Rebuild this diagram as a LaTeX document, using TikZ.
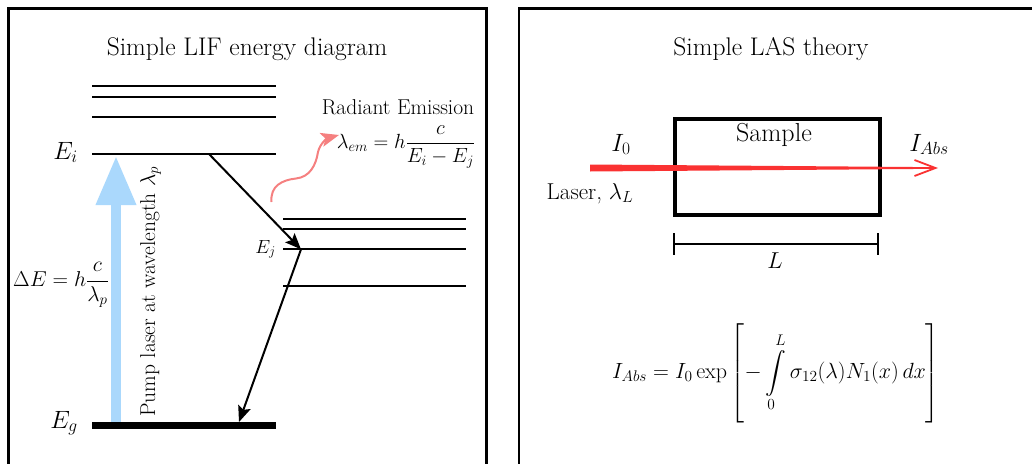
\documentclass[tikz,border=0pt]{standalone}
\usepackage{fix-cm}
\usepackage{fontspec}
\usepackage{amsmath}
\usetikzlibrary{arrows.meta}
\definecolor{pumpblue}{RGB}{170,216,252}
\definecolor{emipink}{RGB}{245,128,128}
\definecolor{beamred}{RGB}{250,50,50}
\tikzset{
  panel/.style={line width=2.7pt},
  level/.style={line width=2pt},
  ttl/.style={font=\fontsize{25.5}{30}\selectfont, inner sep=0pt, anchor=base},
  lbl/.style={font=\fontsize{21.5}{26}\selectfont, inner sep=0pt},
  biglbl/.style={font=\fontsize{25}{30}\selectfont, inner sep=0pt},
  trans/.style={line width=2pt, -{Stealth[length=16pt, width=13pt, inset=3pt]}},
}
\begin{document}
\begin{tikzpicture}[x=1pt, y=-1pt]
\useasboundingbox (0,0) rectangle (1032,463);
% panels
\draw[panel] (8.7,470) -- (8.7,8.7) -- (486.5,8.7) -- (486.5,470);
\draw[panel] (519,470) -- (519,8.7) -- (1040,8.7);
% titles
\node[ttl] (lif) at (247,55) {Simple LIF energy diagram};
\node[ttl] (las) at (771,55) {Simple LAS theory};
% ---- LIF ----
\coordinate (pumpbot) at (116,422);
\coordinate (pumptop) at (116,156);
\draw[pumpblue, line width=10pt, -{Triangle[length=49pt, width=38pt]}] (pumpbot) -- (pumptop);
% upper levels
\draw[level] (92,86.3) -- (276,86.3);
\draw[level] (92,96.7) -- (276,96.7);
\draw[level] (92,116.7) -- (276,116.7);
\draw[level] (92,154) coordinate (eil) -- (276,154);
\draw[line width=6.5pt] (92,425.5) coordinate (egl) -- (276,425.5);
% lower right levels
\draw[level] (283,219) -- (466,219);
\draw[level] (283,229.3) -- (466,229.3);
\draw[level] (283,249.3) coordinate (ejl) -- (466,249.3);
\draw[level] (283,286.3) -- (466,286.3);
% labels
\node[biglbl, anchor=base east] (ei) at (78,159) {$E_i$};
\node[biglbl, anchor=base east] (eg) at (78,428) {$E_g$};
\node[font=\fontsize{19}{22}\selectfont, inner sep=0pt, anchor=base east] (ej) at (276,253) {$E_j$};
\node[lbl] (de) at (61,285) {$\Delta E = h\dfrac{c}{\lambda_p}$};
\node[lbl, rotate=90, anchor=base] (pump) at (155,291.5) {Pump laser at wavelength $\lambda_p$};
% transitions
\coordinate (ai) at (209,154);
\coordinate (aj) at (301,249.3);
\coordinate (ag) at (239,422);
\draw[trans] (ai) -- (aj);
\draw[trans] (aj) -- (ag);
% emission
\node[lbl, anchor=base] (rad) at (398,114) {Radiant Emission};
\node[font=\fontsize{20.5}{24}\selectfont, inner sep=0pt] (lem) at (406,147) {$\lambda_{em} = h\dfrac{c}{E_i - E_j}$};
\coordinate (ws) at (271.5,202);
\coordinate (we) at (339,135);
\draw[emipink, line width=2pt, -{Stealth[length=18pt, width=14pt, inset=4pt]}]
  (ws) .. controls (270,186) and (282,180) .. (296,178.5)
       .. controls (310,177) and (316,165) .. (318,152)
       .. controls (320,143) and (328,138) .. (we);
% ---- LAS ----
\draw[line width=4pt] (674.7,119.3) rectangle (879.7,215.3);
\node[biglbl, font=\fontsize{26}{30}\selectfont, anchor=base] (sample) at (774,141) {Sample};
\coordinate (bs) at (590,168);
\coordinate (be) at (938,168);
\fill[beamred] (590,164.5) -- (926,167.1) -- (926,168.9) -- (590,171.5) -- cycle;
\draw[beamred, line width=1.8pt, -{Straight Barb[length=21pt, width=16pt]}] (915,168) -- (be);
\node[biglbl, anchor=base] (i0) at (621,151) {$I_0$};
\node[biglbl, anchor=base] (iabs) at (929,151) {$I_{Abs}$};
\node[font=\fontsize{23}{26}\selectfont, inner sep=0pt, anchor=base] (laser) at (590,199) {Laser, $\lambda_L$};
% dimension
\coordinate (dl) at (674,244);
\coordinate (dr) at (878,244);
\draw[line width=2.8pt] (dl) -- (dr);
\draw[line width=2.5pt] (674,233) -- (674,255);
\draw[line width=2.5pt] (878,233) -- (878,255);
\node[font=\fontsize{23}{26}\selectfont, inner sep=0pt, anchor=base] (lL) at (775,268) {$L$};
% formula
\node[font=\fontsize{22}{26}\selectfont, inner sep=0pt] (formula) at (776,374)
  {$\displaystyle I_{Abs} = I_0 \exp\left[-\int\limits_0^L \sigma_{12}(\lambda) N_1(x)\, dx\rule[-46pt]{0pt}{100pt}\right]$};
\end{tikzpicture}
\end{document}
